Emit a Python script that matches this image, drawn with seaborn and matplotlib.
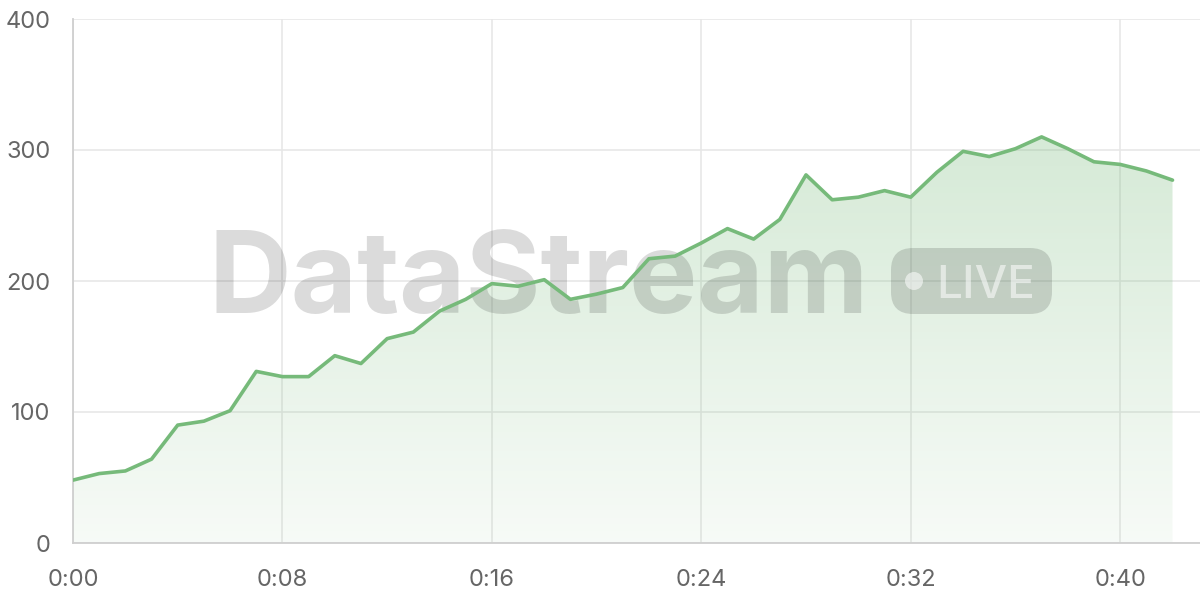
import numpy as np
import pandas as pd
import matplotlib
matplotlib.use("Agg")
import matplotlib.pyplot as plt
import seaborn as sns
from matplotlib.patches import FancyBboxPatch, Circle
from matplotlib.colors import LinearSegmentedColormap

# ---- data ----
minutes = list(range(43))
values = [48, 53, 55, 64, 90, 93, 101, 131, 127, 127, 143, 137, 156, 161, 177, 186,
          198, 196, 201, 186, 190, 195, 217, 219, 229, 240, 232, 247, 281, 262, 264,
          269, 264, 283, 299, 295, 301, 310, 301, 291, 289, 284, 277]
x_ticks = [0, 8, 16, 24, 32, 40]
x_tick_labels = ["0:00", "0:08", "0:16", "0:24", "0:32", "0:40"]
y_ticks = [0, 100, 200, 300, 400]

df = pd.DataFrame({"minute": minutes, "value": values})

sns.set_theme(style="white")
plt.rcParams["font.family"] = ["Inter", "DejaVu Sans"]

LINE = "#76ba7a"
GRID = "#e6e6e6"
AXIS = "#cfcfcf"
TXT = "#666666"

fig = plt.figure(figsize=(12, 6), dpi=100)
ax = fig.add_axes([73 / 1200, 57 / 600, 1127 / 1200, 524 / 600])

# gradient fill under the line
cmap = LinearSegmentedColormap.from_list(
    "g", [(0.455, 0.725, 0.47, 0.06), (0.455, 0.725, 0.47, 0.30)])
grad = np.linspace(0, 1, 256).reshape(-1, 1)
im = ax.imshow(grad, cmap=cmap, origin="lower", aspect="auto",
               extent=[minutes[0], minutes[-1], 0, max(values)], zorder=1)
poly = ax.fill_between(df["minute"], df["value"], 0, color="none", lw=0)
clip = poly.get_paths()[0]
im.set_clip_path(clip, transform=ax.transData)

sns.lineplot(data=df, x="minute", y="value", ax=ax, color=LINE, lw=2.6, zorder=5)

ax.set_xlim(0, 43.05)
ax.set_ylim(0, 400)
ax.set_xticks(x_ticks)
ax.set_xticklabels(x_tick_labels)
ax.set_yticks(y_ticks)
ax.set_xlabel("")
ax.set_ylabel("")
ax.grid(True, color=GRID, lw=1.1, zorder=0)
ax.set_axisbelow(True)
for s in ["top", "right"]:
    ax.spines[s].set_visible(False)
for s in ["left", "bottom"]:
    ax.spines[s].set_color(AXIS)
    ax.spines[s].set_linewidth(1.3)
ax.tick_params(axis="x", length=11, width=1.1, color=GRID, pad=8,
               labelsize=17, labelcolor=TXT)
ax.tick_params(axis="y", length=11, width=1.1, color=GRID, pad=5,
               labelsize=17, labelcolor=TXT)

# ---- watermark (between fill and line) ----
ax.text(208, 600 - 313, "DataStream", fontsize=82.5, fontweight="bold",
        color="black", alpha=0.14, ha="left", va="baseline", zorder=3,
        transform=None, clip_on=False, family=["Inter", "DejaVu Sans"])
badge = FancyBboxPatch((891, 600 - 314), 161, 66,
                       boxstyle="round,pad=0,rounding_size=22",
                       transform=None, facecolor="black", alpha=0.14,
                       edgecolor="none", zorder=3)
ax.add_patch(badge)
dot = Circle((914, 600 - 281), 9, transform=None, facecolor="white",
             alpha=0.55, edgecolor="none", zorder=4)
ax.add_patch(dot)
ax.text(936, 600 - 298, "LIVE", fontsize=33, fontweight="medium", color="white",
        alpha=0.55, ha="left", va="baseline", zorder=4, transform=None,
        clip_on=False, family=["Inter", "DejaVu Sans"])

fig.savefig("out.png", dpi=100)
